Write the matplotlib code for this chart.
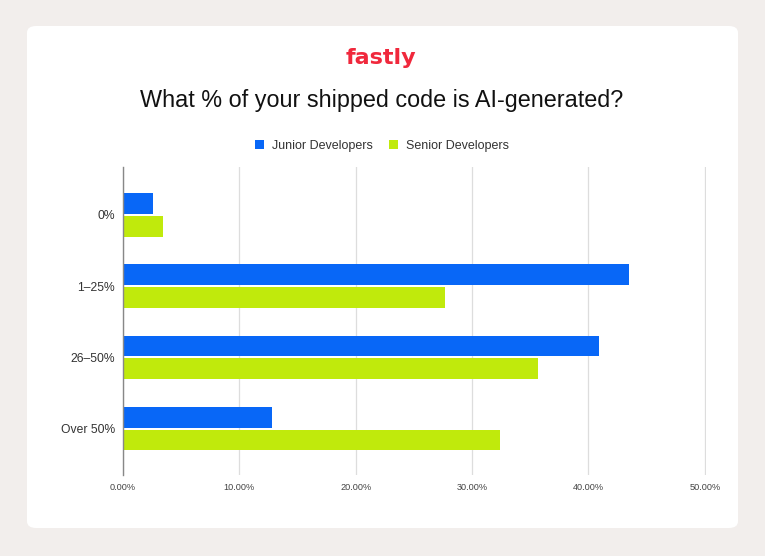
import matplotlib.pyplot as plt
from matplotlib.patches import FancyBboxPatch
import numpy as np

plt.rcParams['font.family'] = ['Liberation Sans', 'DejaVu Sans']

categories = ["0%", "1–25%", "26–50%", "Over 50%"]
junior = [2.6, 43.5, 40.9, 12.8]
senior = [3.4, 27.7, 35.7, 32.4]
xticks = [0, 10, 20, 30, 40, 50]

W, H = 765, 556
fig = plt.figure(figsize=(W / 100, H / 100), dpi=100)
fig.patch.set_facecolor("#f2eeec")

# white card behind everything
card = FancyBboxPatch((27 / W, 28 / H), (738 - 27) / W, (530 - 28) / H,
                      boxstyle="round,pad=0,rounding_size=0.012",
                      transform=fig.transFigure, facecolor="white",
                      edgecolor="none", zorder=-10)
fig.patches.append(card)

fig.text(381 / W, 1 - 58 / H, "fastly", ha="center", va="center",
         fontsize=16, fontweight="bold", color="#f0283c", family="DejaVu Sans")
fig.text(382 / W, 1 - 101 / H, "What % of your shipped code is AI-generated?",
         ha="center", va="center", fontsize=16.8, color="#111111")

ax = fig.add_axes([123 / W, 1 - 475 / H, (706 - 123) / W, (475 - 167) / H])
ax.set_facecolor("none")

y = np.arange(len(categories))
h = 0.29
ax.barh(y - 0.16, junior, height=h, color="#0867f7", label="Junior Developers", zorder=3)
ax.barh(y + 0.16, senior, height=h, color="#c0ea0c", label="Senior Developers", zorder=3)

ax.set_xlim(0, 50.1)
ax.set_ylim(3.65, -0.67)
ax.set_yticks(y)
ax.set_yticklabels(categories, fontsize=8.7, color="#333333")
ax.set_xticks(xticks)
ax.set_xticklabels(["{:.2f}%".format(v) for v in xticks], fontsize=6.6, color="#444444")
ax.tick_params(length=0)
ax.tick_params(axis="x", pad=6)
ax.tick_params(axis="y", pad=6)
ax.grid(axis="x", color="#dddddd", linewidth=0.9, zorder=0)
for s in ["top", "right", "bottom"]:
    ax.spines[s].set_visible(False)
ax.spines["left"].set_color("#888888")
ax.spines["left"].set_linewidth(1.0)
ax.spines["left"].set_zorder(4)

leg = fig.legend(loc="center", bbox_to_anchor=(382 / W, 1 - 146 / H), ncol=2,
                 frameon=False, fontsize=9, handlelength=0.75, handleheight=0.75,
                 handletextpad=0.6, columnspacing=1.3)
for t in leg.get_texts():
    t.set_color("#333333")

fig.savefig("out.png", dpi=100, facecolor=fig.get_facecolor())
